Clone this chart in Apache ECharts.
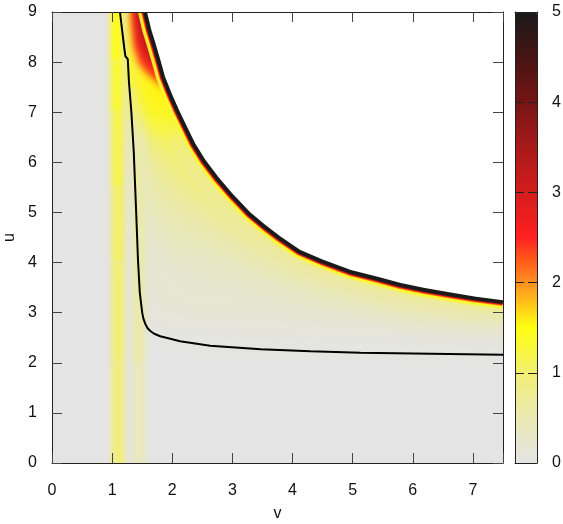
<!DOCTYPE html>
<html>
<head>
<meta charset="utf-8">
<script src="https://cdn.jsdelivr.net/npm/echarts@6/dist/echarts.min.js"></script>
<style>
html, body { margin: 0; padding: 0; background: #fff; }
#chart { width: 563px; height: 524px; }
</style>
</head>
<body>
<div id="chart"></div>
<script>
// edge of the data region (white above it); first point runs past the top
var boundaryV = [1.54, 1.58, 1.65, 1.72, 1.80, 1.88, 2.00, 2.11, 2.25, 2.38, 2.55, 2.77, 3.00, 3.30, 3.55, 3.80, 4.13, 4.50, 4.97, 5.40, 5.80, 6.20, 6.63, 7.05, 7.50];
var boundaryU = [9.25, 9.00, 8.65, 8.38, 8.05, 7.71, 7.35, 7.05, 6.70, 6.38, 6.05, 5.70, 5.38, 5.00, 4.75, 4.52, 4.25, 4.06, 3.85, 3.72, 3.59, 3.49, 3.40, 3.32, 3.25];

// black contour line
var curveV = [1.13, 1.16, 1.20, 1.22, 1.26, 1.28, 1.32, 1.36, 1.40, 1.43, 1.46, 1.50, 1.52, 1.55, 1.59, 1.64, 1.70, 1.80, 2.00, 2.13, 2.63, 3.47, 4.30, 5.13, 6.30, 7.50];
var curveU = [9.00, 8.70, 8.30, 8.12, 8.06, 7.60, 7.00, 6.20, 5.00, 4.05, 3.40, 3.00, 2.88, 2.78, 2.69, 2.63, 2.58, 2.53, 2.47, 2.43, 2.34, 2.27, 2.23, 2.20, 2.18, 2.16];

// vertical stripes: [value, vFrom, vTo, uFrom, uTo]
var stripes = [
  [0.50, 0.96, 1.23, -0.3, 9.3],
  [0.92, 1.01, 1.19, -0.3, 2.0], [0.97, 1.01, 1.19, 2.0, 4.0], [1.05, 1.01, 1.19, 4.0, 5.5],
  [1.18, 1.00, 1.18, 5.5, 7.0], [1.32, 0.99, 1.17, 7.0, 8.0], [1.45, 0.98, 1.16, 8.0, 9.3],
  [0.38, 1.33, 1.56, -0.3, 7.5], [0.55, 1.36, 1.52, 2.0, 7.5],
  [1.30, 1.27, 1.36, 7.5, 9.3]
];

// soft yellow shading below the edge
var fadeLevels = [0.20, 0.45, 0.75, 1.10];
var fadeV = [
  [1.42, 1.45, 1.50, 1.62, 3.00, 5.00, 7.80, 7.80, 1.58],
  [1.42, 1.44, 1.60, 2.20, 3.00, 4.00, 5.00, 6.00, 7.80, 7.80, 1.58],
  [1.42, 1.45, 1.70, 2.20, 2.80, 3.50, 4.50, 6.00, 7.80, 7.80, 1.58],
  [1.40, 1.45, 1.70, 2.00, 2.40, 2.80, 3.30, 4.20, 5.50, 7.80, 7.80, 1.58]
];
var fadeU = [
  [9.50, 5.00, 3.40, 2.85, 2.75, 2.65, 2.60, 9.50, 9.50],
  [8.00, 5.50, 4.60, 4.20, 3.90, 3.50, 3.25, 3.05, 2.90, 9.50, 9.50],
  [7.80, 6.50, 5.60, 5.10, 4.80, 4.30, 3.80, 3.30, 3.10, 9.50, 9.50],
  [7.70, 6.90, 6.40, 6.10, 5.75, 5.40, 4.90, 4.25, 3.70, 3.20, 9.50, 9.50]
];

// bright tongue under the fan
var tongueLevels = [1.30, 1.55];
var tongueV = [
  [1.38, 2.30, 2.30, 2.10, 1.80, 1.55, 1.42],
  [1.40, 2.30, 2.30, 2.00, 1.75, 1.55, 1.44]
];
var tongueU = [
  [9.00, 9.00, 6.60, 6.55, 6.55, 6.75, 7.05],
  [9.00, 9.00, 7.00, 7.00, 7.00, 7.15, 7.40]
];

// dark fan in the upper left corner (right side hidden under the white area)
var fanLevels = [2.40, 3.00, 3.90];
var fanV = [
  [1.31, 2.30, 2.30, 1.95, 1.80, 1.60, 1.45, 1.36, 1.32],
  [1.35, 2.30, 2.30, 1.88, 1.72, 1.55, 1.42, 1.37],
  [1.44, 2.30, 2.30, 1.80, 1.65, 1.52, 1.46]
];
var fanU = [
  [9.50, 9.50, 7.40, 7.45, 7.55, 7.75, 7.95, 8.30, 8.80],
  [9.50, 9.50, 7.60, 7.71, 7.85, 8.05, 8.40, 8.90],
  [9.50, 9.50, 7.90, 8.05, 8.30, 8.70, 9.10]
];

var vTicks = [0, 1, 2, 3, 4, 5, 6, 7];
var uTicks = [0, 1, 2, 3, 4, 5, 6, 7, 8, 9];
var cbTicks = [0, 1, 2, 3, 4, 5];

var palette = ['#e4e4e4', '#e7e6cc', '#eae9b2', '#eeec94', '#f2ef72', '#f8f63e', '#ffff12',
  '#ffc81a', '#ff8e20', '#ff5a1a', '#ff2020', '#ea1e1e', '#d41c1c', '#be1b1b', '#a81a1a',
  '#901818', '#761414', '#5e1414', '#481414', '#301717', '#1a1a1a'];

var font = 'Liberation Sans, Arial, sans-serif';
var ink = '#222';
var SHIFT = 3000; // shapes are drawn off to the side, only their blurred shadow lands in place

var myChart = echarts.init(document.getElementById('chart'));

function softStyle(c, blur) {
  return { fill: c, shadowBlur: blur, shadowColor: c, shadowOffsetX: SHIFT, shadowOffsetY: 0 };
}

function polygonSeries(levels, vs, us, blur, z) {
  return {
    type: 'custom', z: z, clip: true, silent: true,
    xAxisIndex: 0, yAxisIndex: 0,
    data: levels.map(function (lv, i) { return [lv, i]; }),
    renderItem: function (params, api) {
      var k = api.value(1);
      var pts = vs[k].map(function (v, i) {
        var p = api.coord([v, us[k][i]]);
        return [p[0] - SHIFT, p[1]];
      });
      return { type: 'polygon', shape: { points: pts }, style: softStyle(api.visual('color'), blur) };
    }
  };
}

function bandSeries(width, colorIdx, alpha, z) {
  return {
    type: 'custom', z: z, clip: true, silent: true,
    xAxisIndex: 0, yAxisIndex: 0,
    data: [[0, 0]],
    renderItem: function (params, api) {
      var pts = boundaryV.map(function (v, i) { return api.coord([v, boundaryU[i]]); });
      return { type: 'polyline', shape: { points: pts },
        style: { stroke: palette[colorIdx], lineWidth: width, opacity: alpha,
          fill: null, lineJoin: 'round', lineCap: 'butt' } };
    }
  };
}

var stripeSeries = {
  type: 'custom', z: 3, clip: true, silent: true,
  xAxisIndex: 0, yAxisIndex: 0,
  data: stripes,
  renderItem: function (params, api) {
    var p0 = api.coord([api.value(1), api.value(4)]);
    var p1 = api.coord([api.value(2), api.value(3)]);
    return { type: 'rect',
      shape: { x: p0[0] - SHIFT, y: p0[1], width: p1[0] - p0[0], height: p1[1] - p0[1] },
      style: softStyle(api.visual('color'), 5) };
  }
};

var series = [
  polygonSeries(fadeLevels, fadeV, fadeU, 34, 1),
  stripeSeries,
  polygonSeries(tongueLevels, tongueV, tongueU, 20, 4),
  polygonSeries(fanLevels, fanV, fanU, 7, 4),
  bandSeries(44, 2, 0.3, 2),
  bandSeries(26, 3, 0.5, 2),
  bandSeries(18, 5, 0.9, 5),
  bandSeries(14, 6, 1, 5),
  bandSeries(12, 8, 1, 5),
  bandSeries(10.5, 10, 1, 5),
  bandSeries(9, 15, 1, 5),
  bandSeries(7.5, 20, 1, 5),
  {
    type: 'custom', z: 10, clip: true, silent: true,
    xAxisIndex: 0, yAxisIndex: 0,
    data: [[0, 0]],
    renderItem: function (params, api) {
      var pts = boundaryV.map(function (v, i) { return api.coord([v, boundaryU[i]]); });
      pts.push(api.coord([7.8, 3.25]));
      pts.push(api.coord([7.8, 9.5]));
      pts.push(api.coord([1.54, 9.5]));
      return { type: 'polygon', shape: { points: pts }, style: { fill: '#ffffff' } };
    }
  },
  {
    type: 'line', z: 11, silent: true,
    xAxisIndex: 0, yAxisIndex: 0,
    data: curveV.map(function (v, i) { return [v, curveU[i]]; }),
    showSymbol: false,
    lineStyle: { color: '#000', width: 2 }
  }
];

function frameAxis(extra) {
  var base = {
    type: 'value', z: 20,
    axisLine: { show: true, onZero: false, lineStyle: { color: ink, width: 1 } },
    axisTick: { show: true, inside: true, length: 10, lineStyle: { color: '#444' } },
    splitLine: { show: false },
    axisLabel: { show: false }
  };
  for (var k in extra) base[k] = extra[k];
  return base;
}

var option = {
  animation: false,
  backgroundColor: '#ffffff',
  grid: [
    { left: 52, top: 12, width: 451, height: 451, show: true, backgroundColor: palette[0],
      borderWidth: 0, outerBoundsMode: 'none', containLabel: false },
    { left: 515, top: 12, width: 22, height: 451, outerBoundsMode: 'none', containLabel: false }
  ],
  xAxis: [
    frameAxis({ gridIndex: 0, position: 'bottom', min: 0, max: 7.5, interval: 1,
      name: 'v', nameLocation: 'middle', nameGap: 43,
      nameTextStyle: { fontFamily: font, fontSize: 16, color: '#111' },
      axisLabel: { show: true, margin: 20, fontFamily: font, fontSize: 16, color: '#111',
        formatter: function (val) { return vTicks.indexOf(val) >= 0 ? String(val) : ''; } } }),
    frameAxis({ gridIndex: 0, position: 'top', min: 0, max: 7.5, interval: 1 }),
    frameAxis({ gridIndex: 1, position: 'bottom', min: 0, max: 1, axisTick: { show: false } }),
    frameAxis({ gridIndex: 1, position: 'top', min: 0, max: 1, axisTick: { show: false } })
  ],
  yAxis: [
    frameAxis({ gridIndex: 0, position: 'left', min: 0, max: 9, interval: 1,
      name: 'u', nameLocation: 'middle', nameGap: 34, nameRotate: 90,
      nameTextStyle: { fontFamily: font, fontSize: 16, color: '#111' },
      axisLabel: { show: true, margin: 15, fontFamily: font, fontSize: 16, color: '#111',
        formatter: function (val) { return uTicks.indexOf(val) >= 0 ? String(val) : ''; } } }),
    frameAxis({ gridIndex: 0, position: 'right', min: 0, max: 9, interval: 1 }),
    frameAxis({ gridIndex: 1, position: 'left', min: 0, max: 5, interval: 1,
      axisTick: { show: false },
      splitLine: { show: true, lineStyle: { color: ink, type: [9, 4], width: 1 } } }),
    frameAxis({ gridIndex: 1, position: 'right', min: 0, max: 5, interval: 1,
      axisTick: { show: false },
      axisLabel: { show: true, margin: 15, fontFamily: font, fontSize: 16, color: '#111',
        formatter: function (val) { return cbTicks.indexOf(val) >= 0 ? String(val) : ''; } } })
  ],
  visualMap: {
    type: 'continuous', min: 0, max: 5, calculable: false, hoverLink: false,
    seriesIndex: [0, 1, 2, 3], dimension: 0,
    inRange: { color: palette },
    left: 515, top: 12, itemWidth: 22, itemHeight: 451, padding: 0, z: 4
  },
  series: series
};

myChart.setOption(option);
</script>
</body>
</html>
